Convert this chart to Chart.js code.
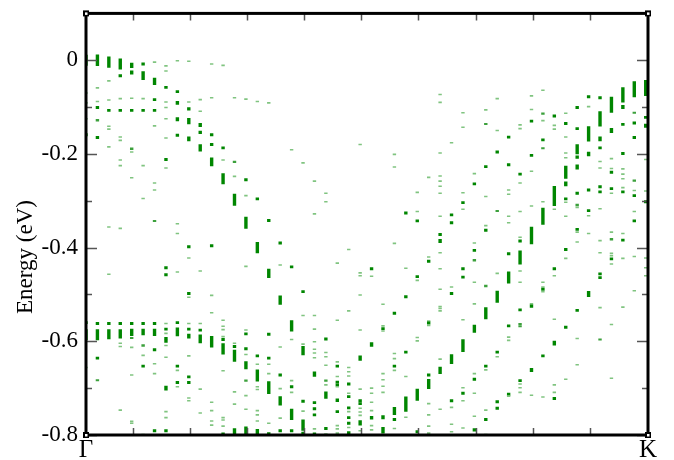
<!DOCTYPE html>
<html>
<head>
<meta charset="UTF-8">
<title>Energy (eV) Γ–K</title>
<style>
  html, body { margin: 0; padding: 0; background: #fff; }
</style>
</head>
<body>
<canvas id="bands" width="674" height="460"></canvas>

<script src="https://cdn.jsdelivr.net/npm/chart.js"></script>
<script>
// k-point columns run from Γ (index 0) to K; each entry is [energy (eV), weight]
const kEnd = 49.2;
const kLabels = ['Γ', 'K'];
const xTickPos = [4.1, 9.1, 14.1, 19.1, 24.1, 29.1, 34.1, 39.1, 44.1];
const yMajor = [0, -0.2, -0.4, -0.6, -0.8];
const yMinor = [-0.1, -0.3, -0.5, -0.7];

// k = 0 .. 16
const gammaSide = [
  [[0.0,0.7],[-0.070,0.1],[-0.091,0.1],[-0.125,0.1],[-0.159,0.18],[-0.560,0.18],[-0.586,0.7],[-0.656,0.1]],
  [[0.0,0.72],[-0.059,0.1],[-0.088,0.1],[-0.101,0.18],[-0.128,0.15],[-0.165,0.18],[-0.562,0.18],[-0.586,0.7],[-0.636,0.18],[-0.683,0.13]],
  [[-0.004,0.7],[-0.044,0.1],[-0.085,0.1],[-0.107,0.18],[-0.141,0.1],[-0.147,0.1],[-0.185,0.1],[-0.356,0.1],[-0.457,0.1],[-0.562,0.18],[-0.585,0.62]],
  [[-0.008,0.7],[-0.033,0.18],[-0.082,0.1],[-0.107,0.18],[-0.164,0.1],[-0.171,0.1],[-0.213,0.1],[-0.225,0.1],[-0.359,0.1],[-0.562,0.18],[-0.584,0.58],[-0.604,0.1],[-0.611,0.1],[-0.747,0.1]],
  [[-0.011,0.32],[-0.026,0.25],[-0.081,0.1],[-0.107,0.18],[-0.189,0.15],[-0.196,0.1],[-0.251,0.1],[-0.562,0.18],[-0.581,0.45],[-0.593,0.13],[-0.613,0.1],[-0.672,0.1],[-0.771,0.1],[-0.775,0.1]],
  [[-0.008,0.18],[-0.033,0.55],[-0.082,0.1],[-0.107,0.18],[-0.225,0.1],[-0.295,0.1],[-0.562,0.18],[-0.580,0.4],[-0.609,0.15],[-0.630,0.1],[-0.653,0.18],[-0.799,0.1]],
  [[-0.004,0.1],[-0.045,0.45],[-0.084,0.18],[-0.107,0.18],[-0.140,0.1],[-0.262,0.1],[-0.277,0.1],[-0.343,0.12],[-0.562,0.18],[-0.581,0.45],[-0.618,0.18],[-0.648,0.1],[-0.669,0.1],[-0.791,0.18]],
  [[-0.012,0.1],[-0.023,0.1],[-0.058,0.18],[-0.089,0.1],[-0.101,0.1],[-0.125,0.1],[-0.166,0.1],[-0.212,0.18],[-0.230,0.1],[-0.443,0.18],[-0.458,0.18],[-0.562,0.1],[-0.574,0.18],[-0.583,0.1],[-0.594,0.18],[-0.600,0.18],[-0.609,0.1],[-0.634,0.1],[-0.700,0.3],[-0.750,0.1],[-0.763,0.1],[-0.791,0.18]],
  [[-0.001,0.1],[-0.067,0.18],[-0.091,0.22],[-0.126,0.25],[-0.160,0.18],[-0.349,0.1],[-0.370,0.1],[-0.452,0.1],[-0.560,0.18],[-0.580,0.55],[-0.653,0.18],[-0.662,0.1],[-0.688,0.18],[-0.697,0.1]],
  [[-0.002,0.1],[-0.089,0.1],[-0.104,0.2],[-0.130,0.38],[-0.168,0.3],[-0.398,0.18],[-0.422,0.1],[-0.498,0.18],[-0.506,0.1],[-0.562,0.1],[-0.574,0.18],[-0.589,0.3],[-0.631,0.1],[-0.676,0.18],[-0.688,0.18],[-0.721,0.1],[-0.727,0.1]],
  [[-0.084,0.1],[-0.109,0.1],[-0.138,0.25],[-0.154,0.2],[-0.187,0.45],[-0.450,0.1],[-0.562,0.1],[-0.576,0.18],[-0.595,0.55],[-0.702,0.1],[-0.753,0.1]],
  [[-0.008,0.1],[-0.080,0.1],[-0.159,0.18],[-0.180,0.18],[-0.217,0.55],[-0.396,0.18],[-0.502,0.1],[-0.539,0.1],[-0.601,0.72],[-0.730,0.1],[-0.748,0.1],[-0.770,0.1],[-0.779,0.1]],
  [[-0.011,0.1],[-0.187,0.18],[-0.213,0.1],[-0.253,0.7],[-0.555,0.1],[-0.568,0.1],[-0.575,0.1],[-0.590,0.1],[-0.596,0.18],[-0.616,0.7],[-0.663,0.1],[-0.763,0.1],[-0.768,0.1],[-0.781,0.1],[-0.798,0.18]],
  [[-0.080,0.1],[-0.217,0.13],[-0.248,0.1],[-0.298,0.75],[-0.604,0.1],[-0.611,0.18],[-0.631,0.75],[-0.708,0.1],[-0.734,0.1],[-0.794,0.5]],
  [[-0.083,0.1],[-0.255,0.18],[-0.289,0.1],[-0.347,0.75],[-0.440,0.1],[-0.576,0.1],[-0.584,0.18],[-0.616,0.18],[-0.628,0.1],[-0.651,0.5],[-0.684,0.13],[-0.716,0.1],[-0.745,0.1],[-0.791,0.55]],
  [[-0.088,0.1],[-0.296,0.18],[-0.400,0.7],[-0.631,0.18],[-0.649,0.1],[-0.673,0.75],[-0.697,0.1],[-0.703,0.1],[-0.748,0.1],[-0.757,0.1],[-0.770,0.1],[-0.794,0.4]],
  [[-0.091,0.1],[-0.342,0.18],[-0.455,0.58],[-0.585,0.18],[-0.636,0.18],[-0.649,0.1],[-0.669,0.1],[-0.699,0.8],[-0.775,0.1],[-0.797,0.18]]
];

// k = 17 .. 32
const middle = [
  [[-0.390,0.18],[-0.437,0.1],[-0.512,0.58],[-0.612,0.1],[-0.672,0.18],[-0.701,0.1],[-0.727,0.58],[-0.764,0.1],[-0.791,0.18]],
  [[-0.191,0.1],[-0.441,0.18],[-0.567,0.7],[-0.596,0.1],[-0.684,0.1],[-0.697,0.18],[-0.709,0.1],[-0.756,0.7],[-0.791,0.18]],
  [[-0.219,0.1],[-0.494,0.18],[-0.545,0.1],[-0.606,0.1],[-0.620,0.58],[-0.728,0.18],[-0.749,0.1],[-0.779,0.7],[-0.796,0.18]],
  [[-0.258,0.1],[-0.328,0.1],[-0.545,0.1],[-0.574,0.1],[-0.601,0.1],[-0.617,0.1],[-0.625,0.1],[-0.635,0.1],[-0.670,0.32],[-0.731,0.18],[-0.744,0.18],[-0.757,0.18],[-0.787,0.1],[-0.798,0.18]],
  [[-0.284,0.1],[-0.302,0.1],[-0.595,0.18],[-0.624,0.1],[-0.633,0.1],[-0.651,0.1],[-0.684,0.13],[-0.693,0.1],[-0.715,0.45],[-0.786,0.18],[-0.798,0.1]],
  [[-0.433,0.1],[-0.555,0.1],[-0.644,0.1],[-0.653,0.18],[-0.675,0.1],[-0.687,0.18],[-0.693,0.18],[-0.697,0.1],[-0.726,0.22],[-0.750,0.18],[-0.780,0.1],[-0.787,0.1],[-0.796,0.1]],
  [[-0.404,0.1],[-0.535,0.1],[-0.656,0.1],[-0.665,0.1],[-0.674,0.1],[-0.691,0.18],[-0.711,0.1],[-0.718,0.18],[-0.742,0.18],[-0.750,0.1],[-0.763,0.18],[-0.775,0.18],[-0.784,0.1],[-0.795,0.18]],
  [[-0.180,0.1],[-0.454,0.1],[-0.460,0.1],[-0.501,0.1],[-0.576,0.1],[-0.636,0.32],[-0.702,0.1],[-0.727,0.18],[-0.733,0.18],[-0.743,0.1],[-0.751,0.1],[-0.758,0.1],[-0.774,0.32],[-0.791,0.1]],
  [[-0.445,0.18],[-0.461,0.1],[-0.607,0.28],[-0.700,0.1],[-0.711,0.1],[-0.730,0.1],[-0.748,0.1],[-0.763,0.22],[-0.780,0.1],[-0.789,0.1]],
  [[-0.521,0.1],[-0.567,0.1],[-0.573,0.18],[-0.578,0.1],[-0.669,0.1],[-0.682,0.1],[-0.696,0.1],[-0.709,0.1],[-0.762,0.25],[-0.790,0.4]],
  [[-0.201,0.1],[-0.228,0.1],[-0.391,0.1],[-0.540,0.18],[-0.626,0.1],[-0.637,0.1],[-0.653,0.18],[-0.662,0.1],[-0.749,0.5],[-0.767,0.18],[-0.786,0.1]],
  [[-0.326,0.18],[-0.444,0.1],[-0.505,0.18],[-0.623,0.18],[-0.675,0.1],[-0.734,0.95],[-0.762,0.1]],
  [[-0.282,0.1],[-0.323,0.1],[-0.343,0.18],[-0.462,0.18],[-0.470,0.1],[-0.592,0.1],[-0.599,0.1],[-0.714,0.75],[-0.793,0.18]],
  [[-0.250,0.1],[-0.420,0.1],[-0.429,0.18],[-0.557,0.1],[-0.561,0.18],[-0.566,0.1],[-0.672,0.18],[-0.691,0.62],[-0.733,0.1],[-0.757,0.1],[-0.781,0.1],[-0.796,0.1]],
  [[-0.073,0.1],[-0.090,0.1],[-0.198,0.1],[-0.247,0.1],[-0.258,0.1],[-0.269,0.1],[-0.284,0.1],[-0.333,0.1],[-0.372,0.18],[-0.386,0.25],[-0.411,0.1],[-0.445,0.1],[-0.489,0.1],[-0.526,0.1],[-0.530,0.1],[-0.535,0.1],[-0.638,0.1],[-0.662,0.45],[-0.745,0.1]],
  [[-0.176,0.1],[-0.330,0.18],[-0.347,0.18],[-0.484,0.1],[-0.498,0.18],[-0.638,0.62],[-0.727,0.18],[-0.741,0.1],[-0.777,0.1],[-0.793,0.1]]
];

// k = 33 .. 49
const kSide = [
  [[-0.112,0.1],[-0.143,0.1],[-0.283,0.1],[-0.304,0.18],[-0.318,0.1],[-0.445,0.18],[-0.463,0.18],[-0.554,0.1],[-0.609,0.8],[-0.699,0.1],[-0.711,0.18],[-0.727,0.1],[-0.785,0.1]],
  [[-0.242,0.1],[-0.264,0.18],[-0.390,0.1],[-0.406,0.18],[-0.427,0.15],[-0.474,0.1],[-0.520,0.1],[-0.573,0.5],[-0.669,0.1],[-0.681,0.18],[-0.711,0.1],[-0.760,0.1],[-0.789,0.2]],
  [[-0.106,0.1],[-0.136,0.13],[-0.227,0.18],[-0.291,0.1],[-0.353,0.1],[-0.363,0.18],[-0.482,0.15],[-0.540,0.75],[-0.653,0.18],[-0.661,0.1],[-0.747,0.1],[-0.767,0.18],[-0.799,0.1]],
  [[-0.082,0.1],[-0.150,0.1],[-0.196,0.18],[-0.322,0.13],[-0.455,0.1],[-0.505,0.75],[-0.623,0.18],[-0.633,0.1],[-0.729,0.18],[-0.743,0.18]],
  [[-0.164,0.18],[-0.223,0.18],[-0.277,0.1],[-0.286,0.1],[-0.333,0.1],[-0.347,0.1],[-0.413,0.18],[-0.464,0.75],[-0.567,0.18],[-0.591,0.1],[-0.598,0.1],[-0.713,0.18],[-0.717,0.1]],
  [[-0.138,0.1],[-0.146,0.1],[-0.243,0.18],[-0.262,0.1],[-0.323,0.1],[-0.378,0.1],[-0.386,0.18],[-0.421,0.88],[-0.450,0.1],[-0.474,0.1],[-0.533,0.18],[-0.563,0.13],[-0.568,0.13],[-0.684,0.18],[-0.691,0.1],[-0.699,0.1],[-0.709,0.1]],
  [[-0.076,0.1],[-0.105,0.1],[-0.130,0.18],[-0.203,0.18],[-0.237,0.1],[-0.311,0.1],[-0.374,1.1],[-0.520,0.1],[-0.525,0.2],[-0.661,0.25],[-0.715,0.1]],
  [[-0.064,0.1],[-0.114,0.13],[-0.129,0.1],[-0.170,0.18],[-0.188,0.13],[-0.302,0.1],[-0.333,1.05],[-0.474,0.1],[-0.484,0.1],[-0.489,0.18],[-0.494,0.1],[-0.631,0.18],[-0.719,0.1]],
  [[-0.119,0.18],[-0.139,0.1],[-0.147,0.1],[-0.290,1.25],[-0.318,0.1],[-0.445,0.18],[-0.460,0.1],[-0.553,0.1],[-0.604,0.3],[-0.693,0.1],[-0.709,0.1],[-0.722,0.18]],
  [[-0.113,0.1],[-0.135,0.18],[-0.164,0.1],[-0.198,0.1],[-0.208,0.1],[-0.239,0.82],[-0.264,0.3],[-0.296,0.18],[-0.303,0.1],[-0.333,0.1],[-0.404,0.18],[-0.423,0.1],[-0.570,0.18],[-0.681,0.1]],
  [[-0.101,0.18],[-0.146,0.18],[-0.190,0.62],[-0.207,0.2],[-0.228,0.32],[-0.284,0.18],[-0.309,0.15],[-0.314,0.1],[-0.361,0.18],[-0.367,0.1],[-0.388,0.1],[-0.534,0.18],[-0.594,0.1],[-0.650,0.1]],
  [[-0.078,0.18],[-0.099,0.1],[-0.157,0.95],[-0.200,0.28],[-0.277,0.18],[-0.321,0.18],[-0.332,0.1],[-0.370,0.1],[-0.499,0.38]],
  [[-0.080,0.18],[-0.125,0.95],[-0.168,0.3],[-0.187,0.18],[-0.216,0.1],[-0.230,0.1],[-0.270,0.18],[-0.281,0.18],[-0.317,0.1],[-0.385,0.1],[-0.411,0.1],[-0.456,0.18],[-0.464,0.18],[-0.528,0.1],[-0.596,0.13]],
  [[-0.095,1.0],[-0.150,0.3],[-0.210,0.1],[-0.231,0.1],[-0.239,0.18],[-0.274,0.18],[-0.284,0.1],[-0.367,0.1],[-0.382,0.15],[-0.412,0.1],[-0.417,0.1],[-0.424,0.18],[-0.435,0.1],[-0.564,0.1],[-0.679,0.1]],
  [[-0.074,0.95],[-0.100,0.25],[-0.137,0.18],[-0.199,0.18],[-0.232,0.1],[-0.243,0.1],[-0.253,0.1],[-0.272,0.1],[-0.281,0.18],[-0.370,0.1],[-0.384,0.18],[-0.423,0.1],[-0.527,0.1]],
  [[-0.062,1.0],[-0.112,0.13],[-0.134,0.18],[-0.165,0.18],[-0.257,0.15],[-0.278,0.1],[-0.289,0.18],[-0.323,0.1],[-0.343,0.18],[-0.419,0.1],[-0.492,0.1]],
  [[-0.059,1.0],[-0.122,0.18],[-0.140,0.25],[-0.212,0.1],[-0.279,0.1],[-0.302,0.18],[-0.422,0.1],[-0.443,0.1],[-0.460,0.1]]
];

const columns = gammaSide.concat(middle, kSide);
const points = [];
columns.forEach((col, k) => col.forEach(([e, w]) => points.push({ x: k, y: e, w: w })));

function shade(w) {
  if (w <= 0.1) return 'rgb(128,196,128)';
  if (w < 0.17) return 'rgb(60,160,60)';
  return 'rgb(0,134,0)';
}

const serif = '"Times New Roman", "Liberation Serif", "DejaVu Serif", serif';

// inward ticks, heavy frame, corner markers and the axis title
const framePlugin = {
  id: 'frame',
  afterDatasetsDraw(chart) {
    const { ctx, chartArea: a, scales: { x, y } } = chart;
    ctx.save();
    ctx.strokeStyle = '#555';
    ctx.lineWidth = 1.5;
    ctx.beginPath();
    xTickPos.forEach(v => {
      const px = Math.round(x.getPixelForValue(v)) + 0.5;
      ctx.moveTo(px, a.top); ctx.lineTo(px, a.top + 7);
      ctx.moveTo(px, a.bottom); ctx.lineTo(px, a.bottom - 7);
    });
    yMajor.concat(yMinor).forEach(v => {
      const len = yMajor.includes(v) ? 11 : 6;
      const py = Math.round(y.getPixelForValue(v)) + 0.5;
      ctx.moveTo(a.left, py); ctx.lineTo(a.left + len, py);
      ctx.moveTo(a.right, py); ctx.lineTo(a.right - len, py);
    });
    ctx.stroke();

    ctx.strokeStyle = '#000';
    ctx.lineWidth = 3;
    ctx.strokeRect(a.left, a.top, a.right - a.left, a.bottom - a.top);

    [[a.left, a.top], [a.right, a.top], [a.left, a.bottom], [a.right, a.bottom]].forEach(([cx, cy]) => {
      ctx.fillStyle = '#000';
      ctx.fillRect(cx - 3, cy - 3, 6, 6);
      ctx.fillStyle = '#fff';
      ctx.fillRect(cx - 1, cy - 1, 2.5, 2.5);
    });

    ctx.translate(26, 257);
    ctx.rotate(-Math.PI / 2);
    ctx.font = '23px ' + serif;
    ctx.fillStyle = '#000';
    ctx.textAlign = 'center';
    ctx.textBaseline = 'middle';
    ctx.fillText('Energy (eV)', 0, 0);
    ctx.restore();
  }
};

new Chart(document.getElementById('bands'), {
  type: 'scatter',
  data: {
    datasets: [{
      data: points,
      pointStyle: 'line',
      rotation: 90,
      borderWidth: 3.4,
      radius: c => Math.max(0.75, c.raw.w * 8),
      hoverRadius: c => Math.max(0.75, c.raw.w * 8),
      borderColor: c => shade(c.raw.w),
      backgroundColor: c => shade(c.raw.w)
    }]
  },
  options: {
    responsive: false,
    devicePixelRatio: 1,
    animation: false,
    events: [],
    layout: { padding: { top: 11, right: 26, bottom: 0, left: 0 } },
    plugins: { legend: { display: false }, tooltip: { enabled: false } },
    scales: {
      x: {
        type: 'linear',
        min: 0,
        max: kEnd,
        grid: { display: false, drawTicks: false },
        border: { display: false },
        afterBuildTicks: s => { s.ticks = [0, kEnd].map(v => ({ value: v })); },
        afterFit: s => { s.height = 25; s.paddingLeft = 0; s.paddingRight = 0; },
        ticks: {
          autoSkip: false,
          maxRotation: 0,
          padding: 0,
          color: '#000',
          font: { family: serif, size: 25 },
          callback: v => (v === 0 ? kLabels[0] : kLabels[1])
        }
      },
      y: {
        min: -0.8,
        max: 0.1,
        grid: { display: false, drawTicks: false },
        border: { display: false },
        afterBuildTicks: s => { s.ticks = yMajor.map(v => ({ value: v })); },
        afterFit: s => { s.width = 86; s.paddingTop = 0; s.paddingBottom = 0; },
        ticks: {
          padding: 8,
          color: '#000',
          font: { family: serif, size: 23 },
          callback: v => (v === 0 ? '0' : v.toFixed(1))
        }
      }
    }
  },
  plugins: [framePlugin]
});
</script>
</body>
</html>
